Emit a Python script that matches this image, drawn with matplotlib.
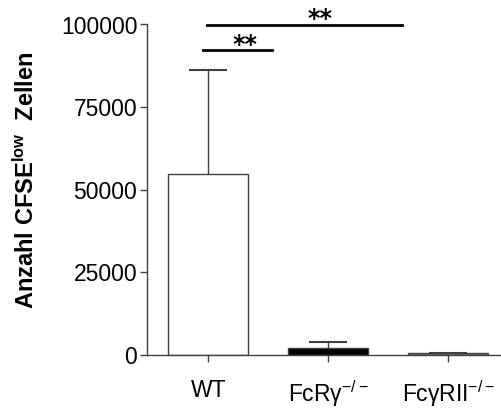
import matplotlib
matplotlib.use("Agg")
import matplotlib.pyplot as plt

plt.rcParams['font.family'] = ['Liberation Sans', 'DejaVu Sans']
plt.rcParams['mathtext.fontset'] = 'custom'
plt.rcParams['mathtext.rm'] = 'Liberation Sans'
plt.rcParams['mathtext.it'] = 'Liberation Sans'
plt.rcParams['mathtext.bf'] = 'Liberation Sans:bold'

# Data
groups = ["WT", "FcRγ$^{-/-}$", "FcγRII$^{-/-}$"]
means = [54700, 2000, 600]
sem = [31400, 1900, 150]
fills = ["white", "black", "#808080"]
yticks = [0, 25000, 50000, 75000, 100000]
ytick_labels = ["0", "25000", "50000", "75000", "100000"]

fig = plt.figure(figsize=(5.02, 4.11), dpi=100)
ax = fig.add_axes([147 / 502, 56 / 411, (502 - 147) / 502, (355 - 24.5) / 411])

x = list(range(len(groups)))
# error bars sit behind the bars so only the upper whisker shows
ax.errorbar(x, means, yerr=sem, fmt="none", ecolor="#404040",
            elinewidth=1.0, capsize=14, capthick=1.5, zorder=1)
ax.bar(x, means, width=0.67, color=fills, edgecolor="#404040", linewidth=1.0, zorder=2)

ax.set_xlim(-0.51, 2.45)
ax.set_ylim(0, 100000)
ax.set_yticks(yticks)
ax.set_yticklabels(ytick_labels)
ax.set_xticks(x)
ax.set_xticklabels(groups)

for side in ("top", "right"):
    ax.spines[side].set_visible(False)
for side in ("left", "bottom"):
    ax.spines[side].set_color("#404040")
    ax.spines[side].set_linewidth(1.0)

ax.tick_params(axis="y", length=5, width=1, color="#404040", labelsize=16.5, pad=2)
ax.tick_params(axis="x", length=5, width=1, color="#404040", labelsize=16.5, pad=12)

ax.set_ylabel(r"Anzahl CFSE$^{\mathbf{low}}$  Zellen", fontsize=17, fontweight="bold")
ax.yaxis.set_label_coords(-0.303, 0.53)

# Significance brackets
star_font = dict(family="DejaVu Sans", fontweight="bold", fontsize=17)
ax.plot([-0.01, 1.62], [99700, 99700], color="black", lw=2, clip_on=False)
ax.text(0.93, 101700, "**", ha="center", va="center", **star_font)
ax.plot([-0.04, 0.53], [92400, 92400], color="black", lw=2, clip_on=False)
ax.text(0.31, 93800, "**", ha="center", va="center", **star_font)

fig.savefig("out.png", dpi=100)
